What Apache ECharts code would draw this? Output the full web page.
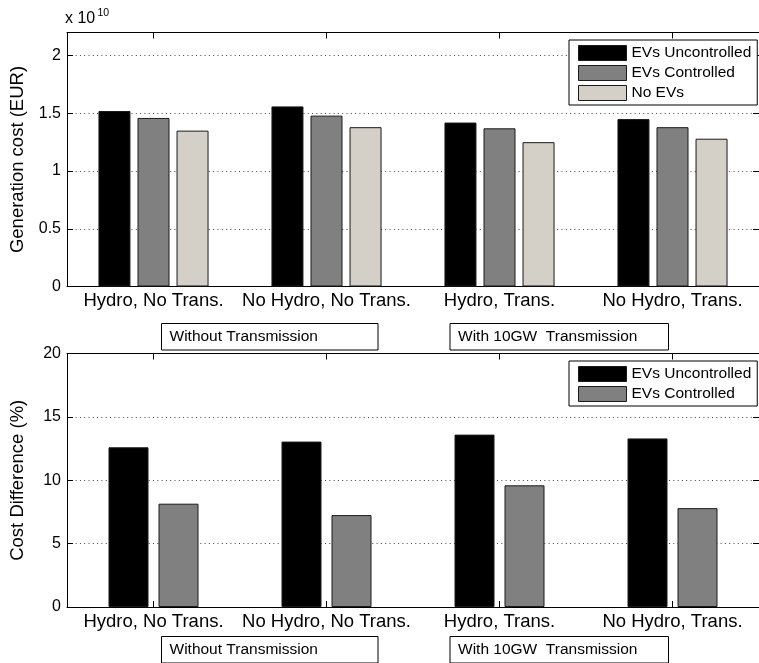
<!DOCTYPE html>
<html>
<head>
<meta charset="utf-8">
<title>Generation cost and cost difference</title>
<script src="https://cdn.jsdelivr.net/npm/echarts@6/dist/echarts.min.js"></script>
<style>
  html, body { margin: 0; padding: 0; background: #fff; }
  #chart { width: 759px; height: 663px; }
</style>
</head>
<body>
<div id="chart"></div>
<script>
// Scenario categories shared by both panels
var categories = ['Hydro, No Trans.', 'No Hydro, No Trans.', 'Hydro, Trans.', 'No Hydro, Trans.'];

// Generation cost, in units of 1e10 EUR
var costUncontrolled = [1.52, 1.56, 1.42, 1.45];
var costControlled   = [1.46, 1.48, 1.37, 1.38];
var costNoEVs        = [1.35, 1.38, 1.25, 1.28];

// Cost difference relative to the no-EV case, in %
var diffUncontrolled = [12.6, 13.05, 13.6, 13.3];
var diffControlled   = [8.15, 7.25, 9.6, 7.8];

var seriesNames = ['EVs Uncontrolled', 'EVs Controlled', 'No EVs'];
var groupLabels = ['Without Transmission', 'With 10GW  Transmission'];
var costTicks = { min: 0, max: 2.2, interval: 0.5 };
var diffTicks = { min: 0, max: 20, interval: 5 };

var FONT = 'Liberation Sans, Arial, Helvetica, sans-serif';
var colors = ['#000000', '#808080', '#d4d0c8'];

var chart = echarts.init(document.getElementById('chart'), null, { renderer: 'canvas' });

// The right-hand frame sits just past the canvas edge
var gridLayout = [
  { left: 65, top: 32.5, width: 699, height: 254 },
  { left: 65, top: 353.5, width: 699, height: 253.5 }
];

function catAxis(gi, pos, showLabels) {
  return {
    type: 'category', gridIndex: gi, data: categories, position: pos,
    axisLine: { show: true, onZero: false, lineStyle: { color: '#000', width: 1 } },
    axisTick: { show: true, inside: true, length: 6, alignWithLabel: true, lineStyle: { color: '#000' } },
    axisLabel: { show: showLabels, color: '#000', fontFamily: FONT, fontSize: 18.5, margin: 5, interval: 0 },
    splitLine: { show: false }
  };
}
function leftY(gi, ticks, name) {
  return {
    type: 'value', gridIndex: gi, position: 'left',
    min: ticks.min, max: ticks.max, interval: ticks.interval,
    name: name, nameLocation: 'middle', nameGap: 40,
    nameTextStyle: { color: '#000', fontFamily: FONT, fontSize: 18.5 },
    axisLine: { show: true, onZero: false, lineStyle: { color: '#000', width: 1 } },
    axisTick: { show: true, inside: true, length: 6, lineStyle: { color: '#000' } },
    axisLabel: { color: '#000', fontFamily: FONT, fontSize: 16, margin: 6, showMaxLabel: ticks.max % ticks.interval === 0 },
    splitLine: { show: true, lineStyle: { color: '#444', width: 1, type: [1, 3.3] } }
  };
}
function rightY(gi, ticks) {
  return {
    type: 'value', gridIndex: gi, position: 'right',
    min: ticks.min, max: ticks.max, interval: ticks.interval,
    axisLine: { show: true, onZero: false, lineStyle: { color: '#000', width: 1 } },
    axisTick: { show: true, inside: true, length: 6, lineStyle: { color: '#000' } },
    axisLabel: { show: false },
    splitLine: { show: false }
  };
}

function barSeries(name, data, color, xi, yi, width, gap) {
  return {
    type: 'bar', name: name, data: data,
    xAxisIndex: xi, yAxisIndex: yi,
    barWidth: width, barGap: gap,
    itemStyle: { color: color, borderColor: '#1a1a1a', borderWidth: 1 },
    emphasis: { disabled: true },
    silent: true
  };
}

function legendBox(top, names) {
  return {
    orient: 'vertical', left: 569, top: top,
    data: names, selectedMode: false,
    icon: 'rect', itemWidth: 48, itemHeight: 15, itemGap: 4,
    padding: [5, 6, 4, 9],
    backgroundColor: '#fff', borderColor: '#000', borderWidth: 1, borderRadius: 0,
    textStyle: { color: '#000', fontFamily: FONT, fontSize: 15.5 },
    itemStyle: { borderColor: '#1a1a1a', borderWidth: 1 }
  };
}

function groupBox(x, y, w, label) {
  return {
    type: 'group', left: x, top: y,
    children: [
      { type: 'rect', shape: { x: 0, y: 0, width: w, height: 26.5 },
        style: { fill: '#fff', stroke: '#000', lineWidth: 1 } },
      { type: 'text', x: 8, y: 13.5,
        style: { text: label, fill: '#000', font: '15.5px ' + FONT, textVerticalAlign: 'middle', textAlign: 'left' } }
    ]
  };
}

var option = {
  backgroundColor: '#fff',
  animation: false,
  grid: gridLayout,
  xAxis: [catAxis(0, 'bottom', true), catAxis(0, 'top', false), catAxis(1, 'bottom', true), catAxis(1, 'top', false)],
  yAxis: [
    leftY(0, costTicks, 'Generation cost (EUR)'), rightY(0, costTicks),
    leftY(1, diffTicks, 'Cost Difference (%)'), rightY(1, diffTicks)
  ],
  legend: [
    legendBox(40, seriesNames),
    legendBox(361, seriesNames.slice(0, 2))
  ],
  series: [
    barSeries(seriesNames[0], costUncontrolled, colors[0], 0, 0, 32, '22%'),
    barSeries(seriesNames[1], costControlled, colors[1], 0, 0, 32, '22%'),
    barSeries(seriesNames[2], costNoEVs, colors[2], 0, 0, 32, '22%'),
    barSeries(seriesNames[0], diffUncontrolled, colors[0], 2, 2, 40, '25%'),
    barSeries(seriesNames[1], diffControlled, colors[1], 2, 2, 40, '25%')
  ],
  graphic: [
    { type: 'text', left: 65, top: 11,
      style: { text: 'x 10', fill: '#000', font: '16px ' + FONT } },
    { type: 'text', left: 97.5, top: 7.5,
      style: { text: '10', fill: '#000', font: '10.5px ' + FONT } },
    groupBox(161, 323, 216.5, groupLabels[0]),
    groupBox(449.5, 323, 218.5, groupLabels[1]),
    groupBox(161, 636, 216.5, groupLabels[0]),
    groupBox(449.5, 636, 218.5, groupLabels[1])
  ]
};

chart.setOption(option);
</script>
</body>
</html>
